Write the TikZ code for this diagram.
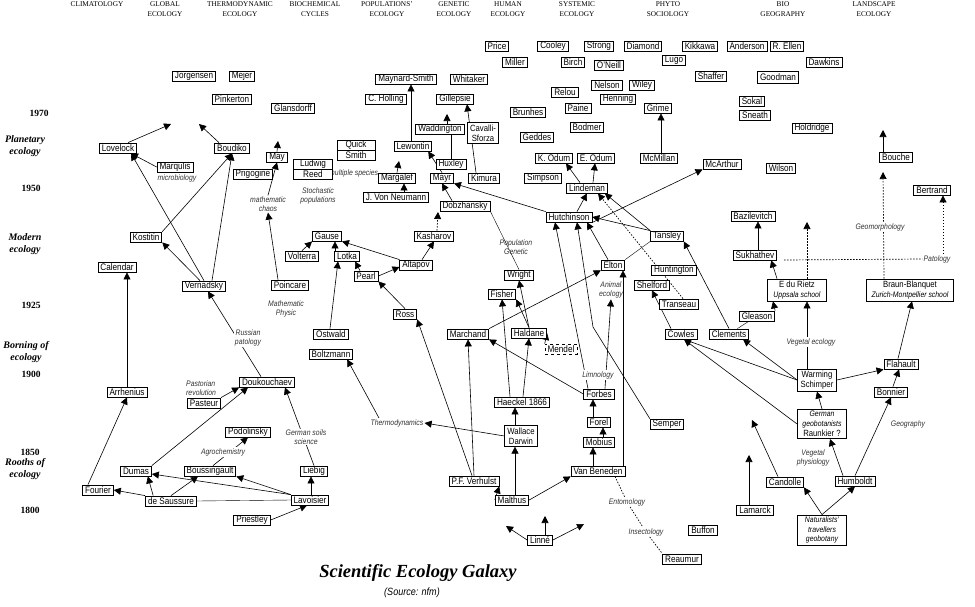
\documentclass[tikz,border=0pt]{standalone}
\usepackage{fontspec}
\setmainfont{Liberation Serif}
\setsansfont{Liberation Sans}[FakeStretch=0.86]
\usepackage{tikz}
\usetikzlibrary{positioning,arrows.meta,backgrounds}

\begin{document}
\begin{tikzpicture}[x=1pt, y=-1pt,
    font=\sffamily\fontsize{9.5}{10}\selectfont,
    box/.style={draw, line width=0.8pt, fill=white, align=center,
                inner xsep=2.5pt, inner ysep=0.5pt, minimum height=10pt},
    tall/.style={box, inner ysep=2pt, font=\sffamily\fontsize{9}{9.8}\selectfont},
    note/.style={font=\sffamily\itshape\fontsize{8}{9}\selectfont, text=black!80,
                 align=center, inner sep=1pt},
    head/.style={font=\rmfamily\fontsize{7.3}{10}\selectfont, align=center,
                 anchor=north, inner sep=0pt},
    era/.style={font=\rmfamily\bfseries\itshape\fontsize{10}{12}\selectfont, align=center},
    year/.style={font=\rmfamily\bfseries\fontsize{9.5}{10}\selectfont},
    arr/.style={-{Triangle[length=7pt,width=7pt]}, line width=0.6pt},
    dots/.style={line width=0.7pt, dash pattern=on 1.5pt off 1.5pt},
  ]
  \begin{pgfonlayer}{background}
    \fill[white] (0,0) rectangle (975,606);
  \end{pgfonlayer}
  \useasboundingbox (0,0) rectangle (975,606);

  % fields
  \node[head] (hclim) at (97,1) {CLIMATOLOGY};
  \node[head] (hglob) at (165,1) {GLOBAL\\ECOLOGY};
  \node[head] (htherm) at (240,1) {THERMODYNAMIC\\ECOLOGY};
  \node[head] (hbioc) at (315,1) {BIOCHEMICAL\\CYCLES};
  \node[head] (hpop) at (387,1) {POPULATIONS'\\ECOLOGY};
  \node[head] (hgen) at (454,1) {GENETIC\\ECOLOGY};
  \node[head] (hhum) at (508,1) {HUMAN\\ECOLOGY};
  \node[head] (hsys) at (577,1) {SYSTEMIC\\ECOLOGY};
  \node[head] (hphyto) at (668,1) {PHYTO\\SOCIOLOGY};
  \node[head] (hbio) at (783,1) {BIO\\GEOGRAPHY};
  \node[head] (hland) at (874,1) {LANDSCAPE\\ECOLOGY};

  % time line
  \node[year] (y1970) at (39,113) {1970};
  \node[era] (eplan) at (25,146) {Planetary\\ecology};
  \node[year] (y1950) at (31,188) {1950};
  \node[era] (emod) at (25,244) {Modern\\ecology};
  \node[year] (y1925) at (31,305) {1925};
  \node[era] (eborn) at (26,352) {Borning of\\ecology};
  \node[year] (y1900) at (31,374) {1900};
  \node[year] (y1850) at (30,452) {1850};
  \node[era] (eroot) at (25,469) {Rooths of\\ecology};
  \node[year] (y1800) at (30,510) {1800};

  % labels
  \node[note, anchor=west] (multsp) at (328,173) {multiple species};
  \node[note] (microbio) at (177,178) {microbiology};
  \node[note] (stochpop) at (318,196) {Stochastic\\populations};
  \node[note] (chaos) at (268,204) {mathematic\\chaos};
  \node[note] (mathphys) at (286,309) {Mathematic\\Physic};
  \node[note] (popgen) at (516,247) {Population\\Genetic};
  \node[note] (animal) at (611,290) {Animal\\ecology};
  \node[note, fill=white] (limnology) at (598,375) {Limnology};
  \node[note, fill=white] (russian) at (248,338) {Russian\\patology};
  \node[note, anchor=west, align=left] (pastorian) at (185,388) {Pastorian\\revolution};
  \node[note, fill=white] (agro) at (223,452) {Agrochemistry};
  \node[note, fill=white] (soils) at (306,437) {German soils\\science};
  \node[note] (thermo) at (397,423) {Thermodynamics};
  \node[note, fill=white] (vegeco) at (811,342) {Vegetal ecology};
  \node[note, fill=white] (geomorph) at (880,227) {Geomorphology};
  \node[note] (pedology) at (937,259) {Patology};
  \node[note] (vegphys) at (813,458) {Vegetal\\physiology};
  \node[note] (geography) at (908,424) {Geography};
  \node[note] (entomology) at (627,502) {Entomology};
  \node[note] (insectology) at (646,532) {Insectology};

  % names
  \node[box] (jorgensen) at (194,76) {Jorgensen};
  \node[box] (mejer) at (242,76) {Mejer};
  \node[box] (pinkerton) at (232,99) {Pinkerton};
  \node[box] (glansdorff) at (293,108) {Glansdorff};
  \node[box] (lovelock) at (118,148) {Lovelock};
  \node[box] (boudiko) at (232,148) {Boudiko};
  \node[box] (marqulis) at (175,167) {Marqulis};
  \node[box] (prigogine) at (253,174) {Prigogine};
  \node[box] (may) at (277,157) {May};
  \node[box, minimum width=39pt] (ludwig) at (313,164) {Ludwig};
  \node[box, minimum width=39pt] (reed) at (313,174) {Reed};
  \node[box, minimum width=38pt] (quick) at (356,145) {Quick};
  \node[box, minimum width=38pt] (smith) at (356,155) {Smith};
  \node[box] (maynard) at (406,79) {Maynard-Smith};
  \node[box] (holling) at (386,99) {C. Holling};
  \node[box] (whitaker) at (469,79) {Whitaker};
  \node[box] (gillepsie) at (455,99) {Gillepsie};
  \node[box] (waddington) at (440,129) {Waddington};
  \node[tall] (cavalli) at (483,133) {Cavalli-\\Sforza};
  \node[box] (lewontin) at (413,146) {Lewontin};
  \node[box] (huxley) at (451,164) {Huxley};
  \node[box] (margalef) at (397,178) {Margalef};
  \node[box] (mayr) at (442,178) {Mayr};
  \node[box] (kimura) at (484,178) {Kimura};
  \node[box] (neumann) at (396,197) {J. Von Neumann};
  \node[box] (dobzhansky) at (465,206) {Dobzhansky};

  \node[box] (price) at (497,46) {Price};
  \node[box] (cooley) at (553,46) {Cooley};
  \node[box] (strong) at (599,46) {Strong};
  \node[box] (diamond) at (643,46) {Diamond};
  \node[box] (kikkawa) at (700,46) {Kikkawa};
  \node[box] (anderson) at (747,46) {Anderson};
  \node[box] (ellen) at (787,46) {R. Ellen};
  \node[box] (miller) at (515,62) {Miller};
  \node[box] (birch) at (573,62) {Birch};
  \node[box] (oneill) at (609,65) {O'Neill};
  \node[box] (lugo) at (674,60) {Lugo};
  \node[box] (dawkins) at (824,62) {Dawkins};
  \node[box] (shaffer) at (711,76) {Shaffer};
  \node[box, minimum height=12pt] (goodman) at (778,77) {Goodman};
  \node[box] (nelson) at (607,85) {Nelson};
  \node[box] (wiley) at (642,85) {Wiley};
  \node[box] (relou) at (565,92) {Relou};
  \node[box] (henning) at (618,99) {Henning};
  \node[box] (paine) at (578,108) {Paine};
  \node[box] (brunhes) at (528,112) {Brunhes};
  \node[box] (grime) at (658,108) {Grime};
  \node[box] (sokal) at (752,101) {Sokal};
  \node[box] (sneath) at (755,115) {Sneath};
  \node[box] (holdridge) at (812,128) {Holdridge};
  \node[box] (bodmer) at (587,127) {Bodmer};
  \node[box] (geddes) at (537,137) {Geddes};
  \node[box] (kodum) at (554,158) {K. Odum};
  \node[box] (eodum) at (596,158) {E. Odum};
  \node[box] (mcmillan) at (659,158) {McMillan};
  \node[box] (mcarthur) at (722,164) {McArthur};
  \node[box] (wilson) at (781,168) {Wilson};
  \node[box] (bouche) at (896,157) {Bouche};
  \node[box] (simpson) at (543,178) {Simpson};
  \node[box] (lindeman) at (587,188) {Lindeman};
  \node[box] (bertrand) at (932,190) {Bertrand};
  \node[box] (hutchinson) at (569,217) {Hutchinson};

  \node[box] (koshtin) at (146,237) {Kostitin};
  \node[box] (gause) at (327,236) {Gause};
  \node[box] (kasharov) at (434,236) {Kasharov};
  \node[box] (volterra) at (302,256) {Volterra};
  \node[box] (lotka) at (347,256) {Lotka};
  \node[box] (altapov) at (416,265) {Altapov};
  \node[box] (pearl) at (366,276) {Pearl};
  \node[box] (calendar) at (117,267) {Calendar};
  \node[box] (vernadsky) at (204,286) {Vernadsky};
  \node[box] (poincare) at (290,285) {Poincare};
  \node[box] (bazilevitch) at (753,216) {Bazilevitch};
  \node[box] (sukhathev) at (755,255) {Sukhathev};
  \node[box] (tansley) at (667,236) {Tansley};
  \node[box] (elton) at (613,265) {Elton};
  \node[box] (huntington) at (674,270) {Huntington};
  \node[box] (wright) at (519,275) {Wright};
  \node[box] (fisher) at (502,294) {Fisher};
  \node[box] (shelford) at (652,285) {Shelford};
  \node[tall, minimum width=59pt] (edurietz) at (797,290) {E du Rietz\\{\itshape\fontsize{8}{9}\selectfont Uppsala school}};
  \node[tall, minimum width=87pt] (braun) at (910,290) {Braun-Blanquet\\{\itshape\fontsize{8}{9}\selectfont Zurich-Montpellier school}};
  \node[box] (transeau) at (679,304) {Transeau};
  \node[box] (ross) at (405,314) {Ross};
  \node[box] (gleason) at (757,316) {Gleason};
  \node[box] (ostwald) at (331,334) {Ostwald};
  \node[box] (boltzmann) at (331,354) {Boltzmann};
  \node[box] (marchand) at (468,334) {Marchand};
  \node[box] (haldane) at (529,333) {Haldane};
  \node[box, dashed] (mendel) at (561,349) {Mendel};
  \node[box] (cowles) at (681,334) {Cowles};
  \node[box] (clements) at (729,334) {Clements};
  \node[box] (flahault) at (901,364) {Flahault};
  \node[box] (doukouchaev) at (267,382) {Doukouchaev};
  \node[box] (arrhenius) at (127,392) {Arrhenius};
  \node[box] (pasteur) at (204,403) {Pasteur};
  \node[tall, minimum width=39pt] (warming) at (817,380) {Warming\\Schimper};
  \node[box] (forbes) at (599,394) {Forbes};
  \node[box] (bonnier) at (891,392) {Bonnier};
  \node[box] (haeckel) at (522,402) {Haeckel 1866};
  \node[box] (forel) at (599,422) {Forel};
  \node[box] (semper) at (667,424) {Semper};
  \node[box] (podolinsky) at (248,432) {Podolinsky};
  \node[tall] (wallace) at (521,436) {Wallace\\Darwin};
  \node[box] (mobius) at (599,442) {Mobius};
  \node[tall, minimum width=49pt] (german) at (822,424) {{\itshape\fontsize{8}{9}\selectfont German}\\{\itshape\fontsize{8}{9}\selectfont geobotanists}\\Raunkier ?};
  \node[box] (dumas) at (136,471) {Dumas};
  \node[box] (boussingault) at (210,471) {Boussingault};
  \node[box] (liebig) at (314,471) {Liebig};
  \node[box] (vanbeneden) at (598,471) {Van Beneden};
  \node[box] (verhulst) at (474,481) {P.F. Verhulst};
  \node[box] (candolle) at (785,482) {Candolle};
  \node[box] (humboldt) at (855,481) {Humboldt};
  \node[box] (fourier) at (98,490) {Fourier};
  \node[box] (desaussure) at (171,501) {de Saussure};
  \node[box] (lavoisier) at (310,500) {Lavoisier};
  \node[box] (malthus) at (512,500) {Malthus};
  \node[box] (lamarck) at (755,510) {Lamarck};
  \node[box] (priestley) at (252,520) {Priestley};
  \node[tall, minimum width=49pt, font=\sffamily\itshape\fontsize{8}{9.3}\selectfont] (naturalists) at (822,530) {Naturalists'\\travellers\\geobotany};
  \node[box] (buffon) at (703,530) {Buffon};
  \node[box] (linne) at (540,540) {Linné};
  \node[box] (reaumur) at (682,559) {Reaumur};

  \coordinate (lovefut) at (171,124);
  \coordinate (boudfut) at (199,124);
  \coordinate (mayfut) at (278,141);
  \coordinate (margfut) at (399,161);
  \coordinate (waddfut) at (447,114);
  \coordinate (kashfut) at (438,212);
  \coordinate (rietzfut) at (807,222);
  \coordinate (bouchefut) at (883,130);
  \coordinate (bouchein) at (883,172);
  \coordinate (candfut) at (752,420);
  \coordinate (lamfut) at (749,455);
  \coordinate (linneup) at (545,516);
  \coordinate (linneleft) at (506,526);
  \coordinate (linneright) at (584,524);
  \coordinate (semperbend) at (593,327);

  \node[font=\rmfamily\bfseries\itshape\fontsize{18.5}{20}\selectfont] (title) at (418,573) {Scientific Ecology Galaxy};
  \node[font=\sffamily\itshape\fontsize{10.5}{12}\selectfont] (source) at (412,593) {(Source: nfm)};

  \begin{pgfonlayer}{background}
    % global ecology
    \draw[arr] ([xshift=10pt]lovelock.north) -- (lovefut);
    \draw[arr] ([xshift=-13pt]boudiko.north) -- (boudfut);
    \draw[arr] (vernadsky.north) -- ([xshift=-6pt]lovelock.south east);
    \draw[arr] ([xshift=8pt]vernadsky.north) -- (boudiko.south);
    \draw[arr] (koshtin.north east) -- (boudiko.south);
    \draw[arr] ([xshift=-4pt]vernadsky.north) -- (koshtin.south east);
    \draw[arr] (marqulis.west) -- ([xshift=-6pt]lovelock.south east);
    \draw[arr] (doukouchaev.north) ++(-6,0) -- ([xshift=4pt]vernadsky.south);
    \draw[arr] ([xshift=-10pt]fourier.north) -- (arrhenius.south);
    \draw[arr] (arrhenius.north) -- ([xshift=10pt]calendar.south);
    % chemistry
    \draw[arr] (desaussure.north west) -- (fourier.east);
    \draw[arr] ([xshift=8pt]desaussure.north west) -- ([xshift=-4pt]dumas.south east);
    \draw[arr] (desaussure.north) -- ([xshift=-12pt]boussingault.south);
    \draw (desaussure.east) -- (lavoisier.west);
    \draw[arr] (lavoisier.north west) -- ([yshift=-3pt]dumas.east);
    \draw[arr] (lavoisier.north west) -- (boussingault.south east);
    \draw[arr] ([xshift=1pt]lavoisier.north) -- ([xshift=-3pt]liebig.south);
    \draw[arr] (priestley.east) -- ([xshift=-3pt]lavoisier.south);
    \draw[arr] ([xshift=3pt]boussingault.north) -- (podolinsky.south);
    \draw[arr] (liebig.north) -- ([xshift=18pt]doukouchaev.south);
    \draw[arr] (dumas.north east) -- ([xshift=-19pt]doukouchaev.south);
    \draw[arr] (pasteur.north east) -- (doukouchaev.south west);
    % thermodynamics and populations
    \draw[arr] (may.north) -- (mayfut);
    \draw[arr] (chaos.north) -- (may.south);
    \draw[arr] ([xshift=-12pt]poincare.north) -- (chaos.south);
    \draw[arr] (margalef.north) -- (margfut);
    \draw[arr] ([xshift=8pt]neumann.north) -- ([xshift=7pt]margalef.south);
    \draw[arr] ([xshift=-2pt]lewontin.north) -- ([xshift=5pt]maynard.south);
    \draw[arr] (mayr.north) -- ([xshift=-4pt]lewontin.south east);
    \draw ([xshift=11pt]waddington.south) -- (huxley.north);
    \draw[arr] ([xshift=7pt]waddington.north) -- (waddfut);
    \draw[arr] ([xshift=-8pt]kimura.north) -- ([xshift=12pt]gillepsie.south);
    \draw[arr] (hutchinson.north west) -- (mayr.south east);
    \draw[arr] ([xshift=-13pt]dobzhansky.north) -- (mayr.south);
    \draw (wright.north) -- (dobzhansky.south east);
    \draw[arr] (volterra.north) -- (gause.south west);
    \draw[arr] ([xshift=-12pt]lotka.north) -- ([xshift=8pt]gause.south);
    \draw[arr] (altapov.north west) -- (gause.south east);
    \draw[arr] ([xshift=6pt]altapov.north) -- (kasharov.south);
    \draw[arr, dots] ([xshift=3pt]kasharov.north) -- (kashfut);
    \draw[arr] ([xshift=-6pt]pearl.north) -- ([xshift=8pt]lotka.south);
    \draw[arr] (pearl.east) -- ([yshift=-2pt]altapov.west);
    \draw[arr] (ross.north) -- (pearl.south east);
    \draw[arr] ([xshift=-1pt]ostwald.north) -- ([xshift=-9pt]lotka.south);
    \draw[arr] ([xshift=-18pt]thermo.north) -- ([xshift=-6pt]boltzmann.south east);
    \draw[arr] (wallace.west) -- (thermo.east);
    \draw[arr] ([xshift=-2pt]verhulst.north) -- (ross.south east);
    \draw[arr] (verhulst.north) -- (marchand.south);
    % genetics
    \draw[arr] ([xshift=3pt]malthus.north) -- ([xshift=-6pt]wallace.south);
    \draw[arr] ([xshift=-6pt]wallace.north) -- ([xshift=-7pt]haeckel.south);
    \draw[arr] (malthus.west) -- (verhulst.south east);
    \draw[arr] (malthus.east) -- (vanbeneden.south west);
    \draw[arr] ([xshift=-12pt]haeckel.north) -- (fisher.south);
    \draw[arr] ([xshift=1pt]haeckel.north) -- (haldane.south);
    \draw[arr] (haldane.north) -- (wright.south);
    \draw[arr] (haldane.north) -- (fisher.south east);
    \draw[arr] (mendel.north west) -- (haldane.east);
    \draw[arr] (marchand.north east) -- (elton.south west);
    \draw[arr] (forbes.west) -- (marchand.south east);
    % systems
    \draw[arr] ([xshift=-5pt]vanbeneden.north) -- ([xshift=-6pt]mobius.south);
    \draw[arr] ([xshift=4pt]mobius.north) -- ([xshift=4pt]forel.south);
    \draw[arr] ([xshift=-6pt]forel.north) -- ([xshift=-6pt]forbes.south);
    \draw[arr] ([xshift=25pt]vanbeneden.north) -- ([xshift=10pt]elton.south);
    \draw[arr] ([xshift=6pt]forbes.north) -- (animal.south);
    \draw[arr] ([xshift=-11pt]forbes.north) -- ([xshift=-14pt]hutchinson.south);
    \draw[arr] (semper.north west) -- (semperbend) -- ([xshift=8pt]hutchinson.south);
    \draw[dots] ([xshift=17pt]vanbeneden.south) -- (entomology);
    \draw[dots] (entomology) -- (insectology);
    \draw[dots] (insectology) -- (reaumur.north west);
    \draw[arr] ([xshift=-5pt]elton.north) -- ([xshift=18pt]hutchinson.south);
    \draw (elton.north east) -- (tansley.south west);
    \draw[arr] (tansley.north west) -- (hutchinson.east);
    \draw[arr] (tansley.north west) -- ([xshift=-3pt]lindeman.south east);
    \draw[arr] ([xshift=8pt]hutchinson.north) -- (lindeman.south);
    \draw[arr, dots] ([xshift=4pt]transeau.north) -- ([xshift=11pt]lindeman.south);
    \draw[arr] (hutchinson.south east) -- (mcarthur.south west);
    \draw[arr] ([xshift=-7pt]lindeman.north) -- ([xshift=-7pt]kodum.south east);
    \draw[arr] ([xshift=6pt]lindeman.north) -- ([xshift=-1pt]eodum.south);
    \draw[arr] ([xshift=2pt]mcmillan.north) -- ([xshift=3pt]grime.south);
    % plant geography
    \draw[arr] ([xshift=-10pt]cowles.north) -- (shelford.south);
    \draw[arr] (clements.north) -- (tansley.south east);
    \draw (clements) -- (gleason);
    \draw[arr] (gleason.north east) -- ([xshift=-24pt]edurietz.south);
    \draw[arr] ([xshift=-20pt]edurietz.north) -- ([xshift=-6pt]sukhathev.south east);
    \draw[arr] ([xshift=3pt]sukhathev.north) -- ([xshift=5pt]bazilevitch.south);
    \draw[arr, dots] ([xshift=10pt]edurietz.north) -- (rietzfut);
    \draw[dots] ([xshift=7pt,yshift=-5pt]sukhathev.east) -- (pedology.west);
    \draw[arr, dots] ([xshift=11pt]bertrand.south |- pedology.north) -- ([xshift=11pt]bertrand.south);
    \draw[arr, dots] ([xshift=-26pt]braun.north) -- (bouchein);
    \draw[arr] ([xshift=-13pt]bouche.north) -- (bouchefut);
    \draw[arr] ([xshift=-10pt]warming.north) -- ([xshift=10pt]edurietz.south);
    \draw[arr] (german.north) -- (warming.south);
    \draw[arr] (warming.east) -- (flahault.south west);
    \draw[arr] (warming.west) -- ([xshift=14pt]clements.south);
    \draw[arr] (warming.west) -- ([xshift=3pt]cowles.south);
    \draw[arr] (german.west) -- ([xshift=3pt]cowles.south);
    \draw[arr] ([xshift=-3pt]flahault.north) -- ([xshift=2pt]braun.south);
    \draw[arr] (bonnier) -- (flahault);
    \draw[arr] (humboldt.north) -- (bonnier.south);
    \draw[arr] ([xshift=-12pt]humboldt.north) -- ([xshift=8pt]german.south);
    \draw[arr] (naturalists.north) -- (candolle.south east);
    \draw[arr] (naturalists.north) -- (humboldt.south);
    \draw[arr] ([xshift=-7pt]candolle.north) -- (candfut);
    \draw[arr] ([xshift=-6pt]lamarck.north) -- (lamfut);
    \draw[arr] ([xshift=5pt]linne.north) -- (linneup);
    \draw[arr] (linne.west) -- (linneleft);
    \draw[arr] (linne.east) -- (linneright);
  \end{pgfonlayer}
\end{tikzpicture}
\end{document}
